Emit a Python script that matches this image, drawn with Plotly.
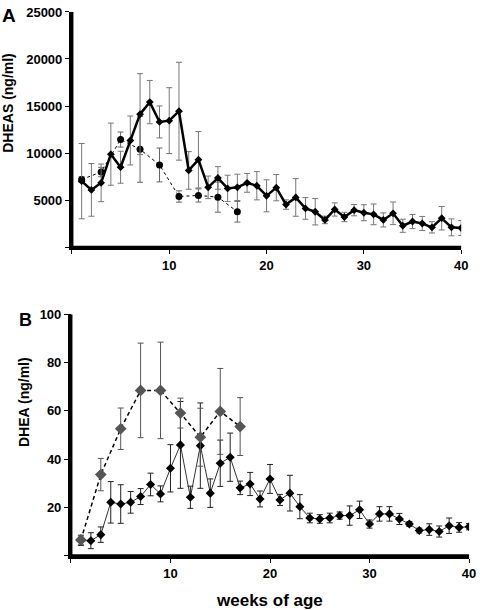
import plotly.graph_objects as go

# ---------------- Panel A: DHEAS ----------------
a_weeks = list(range(1, 41))
a_solid = [7020, 6090, 6840, 9890, 8500, 11340, 14140, 15420, 13310, 13450,
           14450, 8160, 9300, 6360, 7360, 6250, 6360, 6840, 6530, 5460,
           6330, 4530, 5290, 4120, 3770, 2900, 4010, 3210, 3940, 3660,
           3490, 2900, 3600, 2280, 2730, 2520, 2110, 3080, 2110, 2040]
a_solid_err = [4000, 2800, 2000, 3300, 1700, 2600, 4300, 2300, 1700, 3500,
               5200, 2000, 3000, 1200, 1200, 1400, 1400, 1000, 1500, 1700,
               1400, 500, 2000, 1150, 1400, 400, 700, 500, 600, 850,
               1100, 750, 1200, 700, 750, 750, 600, 1250, 900, 800]
a_dash_weeks = [1, 3, 5, 7, 9, 11, 13, 15, 17]
a_dash = [7190, 7990, 11440, 10400, 8740, 5390, 5500, 5320, 3770]
a_dash_err = [300, 500, 800, 3500, 1800, 600, 700, 1600, 1100]

# ---------------- Panel B: DHEA ----------------
b_weeks = list(range(1, 41))
b_solid = [6.2, 6.2, 8.7, 22.1, 21.4, 22.1, 24.5, 29.5, 25.6, 36.2,
           45.9, 24.2, 45.6, 25.9, 38.3, 40.8, 28.1, 29.7, 23.5, 31.8,
           23.1, 25.9, 20.3, 15.6, 15.2, 15.6, 16.6, 16.6, 19.0, 13.1,
           17.3, 17.3, 15.2, 13.1, 10.4, 10.8, 10.0, 12.4, 11.7, 12.0]
b_solid_err = [2.0, 3.3, 3.2, 8.6, 8.0, 4.5, 3.3, 4.7, 3.3, 9.8,
               18.0, 4.6, 17.7, 5.9, 9.6, 10.0, 2.8, 4.8, 3.3, 6.0,
               2.3, 7.4, 5.0, 2.0, 1.8, 2.0, 1.5, 4.0, 3.6, 1.7,
               3.0, 3.0, 2.3, 1.0, 1.0, 2.4, 2.3, 3.2, 2.0, 1.3]
b_dash_weeks = [1, 3, 5, 7, 9, 11, 13, 15, 17]
b_dash = [6.5, 33.6, 52.6, 68.5, 68.5, 59.1, 49.1, 59.8, 53.5]
b_dash_err = [2.0, 6.7, 8.6, 19.6, 20.0, 6.2, 12.0, 17.8, 12.0]

x_tickvals = [0, 10, 20, 30, 40]
x_ticktext = ["", "10", "20", "30", "40"]
a_tickvals = [0, 5000, 10000, 15000, 20000, 25000]
a_ticktext = ["", "5000", "10000", "15000", "20000", "25000"]
b_tickvals = [0, 20, 40, 60, 80, 100]
b_ticktext = ["", "20", "40", "60", "80", "100"]

W, H = 480, 610
FONT = "Liberation Sans, Arial, sans-serif"


def px(x):
    """horizontal pixel position -> paper fraction"""
    return x / W


def py(y):
    """vertical pixel position (from top) -> paper fraction"""
    return 1 - y / H


fig = go.Figure()

fig.add_trace(go.Scatter(
    x=a_dash_weeks, y=a_dash, mode="lines+markers",
    line=dict(color="black", width=1, dash="3px,3px"),
    marker=dict(symbol="circle", size=7, color="black"),
    error_y=dict(type="data", array=a_dash_err, color="#666", thickness=1, width=3),
    xaxis="x", yaxis="y", showlegend=False))
fig.add_trace(go.Scatter(
    x=a_weeks, y=a_solid, mode="lines+markers",
    line=dict(color="black", width=2.5),
    marker=dict(symbol="diamond", size=6, color="black"),
    error_y=dict(type="data", array=a_solid_err, color="#777", thickness=1, width=3),
    xaxis="x", yaxis="y", showlegend=False))
fig.add_trace(go.Scatter(
    x=b_weeks, y=b_solid, mode="lines+markers",
    line=dict(color="#333", width=1),
    marker=dict(symbol="diamond", size=7, color="black"),
    error_y=dict(type="data", array=b_solid_err, color="#222", thickness=1, width=3),
    xaxis="x2", yaxis="y2", showlegend=False))
fig.add_trace(go.Scatter(
    x=b_dash_weeks, y=b_dash, mode="lines+markers",
    line=dict(color="black", width=1.5, dash="4px,3px"),
    marker=dict(symbol="diamond", size=9, color="#555"),
    error_y=dict(type="data", array=b_dash_err, color="#555", thickness=1, width=3),
    xaxis="x2", yaxis="y2", showlegend=False))

tickfont = dict(family=FONT, size=13, color="black", weight="bold")
axis_common = dict(showline=True, linecolor="black", linewidth=3, ticks="outside",
                   ticklen=4, tickwidth=1, tickcolor="black", showgrid=False,
                   zeroline=False, tickfont=tickfont)

fig.update_layout(
    width=W, height=H,
    margin=dict(l=0, r=0, t=0, b=0),
    paper_bgcolor="white", plot_bgcolor="white",
    font=dict(family=FONT, color="black"),
    xaxis=dict(domain=[px(73), px(468)], range=[0, 40], anchor="y",
               tickvals=x_tickvals, ticktext=x_ticktext, **axis_common),
    yaxis=dict(domain=[py(243), py(5)], range=[0, 25000], anchor="x",
               tickvals=a_tickvals, ticktext=a_ticktext, **axis_common),
    xaxis2=dict(domain=[px(72), px(476)], range=[0, 40], anchor="y2",
                tickvals=x_tickvals, ticktext=x_ticktext, **axis_common),
    yaxis2=dict(domain=[py(555), py(311)], range=[0, 100], anchor="x2",
                tickvals=b_tickvals, ticktext=b_ticktext, **axis_common),
)

shapes = []
for xr, yr in (("x", "y"), ("x2", "y2")):
    shapes.append(dict(type="line", xref=f"{xr} domain", yref=f"{yr} domain",
                       x0=0, x1=1, y0=0, y1=0, line=dict(color="black", width=3),
                       layer="above"))
    shapes.append(dict(type="line", xref=f"{xr} domain", yref=f"{yr} domain",
                       x0=0, x1=0, y0=0, y1=1, line=dict(color="black", width=3),
                       layer="above"))
fig.update_layout(shapes=shapes)

ann = [
    dict(text="<b>A</b>", x=px(0), y=py(9), xanchor="left", yanchor="middle",
         font=dict(family=FONT, size=19)),
    dict(text="<b>B</b>", x=px(17), y=py(317), xanchor="left", yanchor="middle",
         font=dict(family=FONT, size=18)),
    dict(text="<b>DHEAS (ng/ml)</b>", x=px(8), y=py(97), textangle=-90,
         xanchor="center", yanchor="middle", font=dict(family=FONT, size=14)),
    dict(text="<b>DHEA (ng/ml)</b>", x=px(25), y=py(400), textangle=-90,
         xanchor="center", yanchor="middle", font=dict(family=FONT, size=14)),
    dict(text="<b>weeks of age</b>", x=px(273), y=py(600),
         xanchor="center", yanchor="middle", font=dict(family=FONT, size=17)),
]
for a in ann:
    a.update(xref="paper", yref="paper", showarrow=False)
fig.update_layout(annotations=ann)

post = ("document.documentElement.style.margin='0px';"
        "document.body.style.margin='0px';")
fig.write_html("out.html", config={"displayModeBar": False}, post_script=post)
